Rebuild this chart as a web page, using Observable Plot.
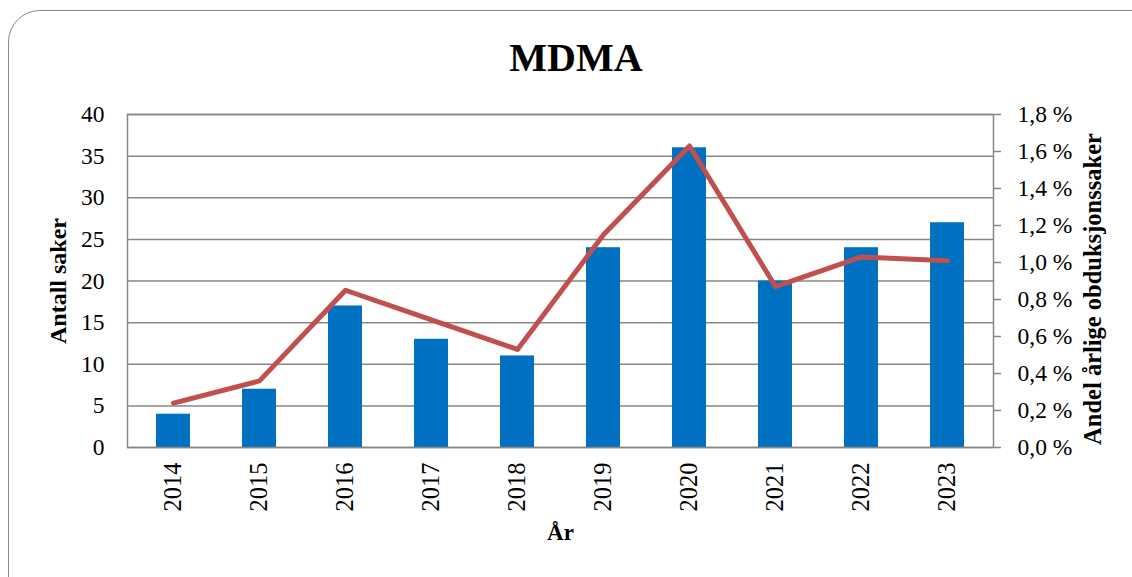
<!DOCTYPE html>
<html><head><meta charset="utf-8">
<script src="https://cdn.jsdelivr.net/npm/d3@7"></script>
<script src="https://cdn.jsdelivr.net/npm/@observablehq/plot@0.6"></script>
<style>
html,body{margin:0;padding:0;background:#fff;}
#wrap{position:relative;width:1132px;height:577px;overflow:hidden;background:#fff;}
#frame{position:absolute;left:8px;top:10px;width:1160px;height:600px;border:1.5px solid #8a8a8a;border-radius:32px;box-sizing:border-box;}
#chart{position:absolute;left:0;top:0;}
#title{position:absolute;left:0;width:1152px;top:38px;text-align:center;font:bold 40px/1 "Liberation Serif",serif;color:#000;}
</style></head><body>
<div id="wrap"><div id="frame"></div><div id="chart"></div><div id="title"></div></div>
<script>
const title = "MDMA";
const xLabel = "År";
const yLabel = "Antall saker";
const y2Label = "Andel årlige obduksjonssaker";
const years = ["2014","2015","2016","2017","2018","2019","2020","2021","2022","2023"];
const cases = [4,7,17,13,11,24,36,20,24,27];
const sharePct = [0.24,0.36,0.85,0.69,0.53,1.15,1.63,0.87,1.03,1.01];
const countTicks = [0,5,10,15,20,25,30,35,40];
const pctTicks = [0,0.2,0.4,0.6,0.8,1.0,1.2,1.4,1.6,1.8];

const k = 40 / 1.8;
const data = years.map((y, i) => ({year: y, cases: cases[i], share: sharePct[i] * k}));
const fmtPct = d => (d / k).toFixed(1).replace(".", ",") + " %";
const font = '"Liberation Serif", serif';

document.getElementById("title").textContent = title;

const chart = Plot.plot({
  width: 1132, height: 577,
  marginLeft: 127, marginRight: 139, marginTop: 114, marginBottom: 130,
  style: {fontFamily: font, fontSize: "22px", background: "transparent", color: "#000"},
  x: {type: "band", domain: years, paddingInner: 0.6, paddingOuter: 0.3, axis: null},
  y: {domain: [0, 40], axis: null, label: null},
  marks: [
    Plot.gridY(countTicks, {stroke: "#878787", strokeOpacity: 1, strokeWidth: 1.5}),
    Plot.barY(data, {x: "year", y: "cases", fill: "#0070C0"}),
    Plot.frame({stroke: "#878787", strokeWidth: 1.5}),
    Plot.lineY(data, {x: "year", y: "share", stroke: "#C0504D", strokeWidth: 5, strokeLinecap: "round", strokeLinejoin: "round"}),
    Plot.axisY({anchor: "left", ticks: countTicks, tickSize: 0, tickPadding: 23, fontSize: 23.5, label: null}),
    Plot.axisY({anchor: "right", ticks: pctTicks.map(p => p * k), tickFormat: fmtPct, tickSize: 7, tickPadding: 17, stroke: "#878787", strokeWidth: 1.5, fontSize: 23.5, label: null}),
    Plot.axisX({anchor: "bottom", tickRotate: -90, tickSize: 0, tickPadding: 15, fontSize: 24.5, label: null}),
    Plot.text([yLabel], {text: d => d, frameAnchor: "left", textAnchor: "middle", lineAnchor: "middle", rotate: -90, dx: -69, fontWeight: "bold", fontSize: 24}),
    Plot.text([y2Label], {text: d => d, frameAnchor: "right", textAnchor: "middle", lineAnchor: "middle", rotate: -90, dx: 100, dy: 8, fontWeight: "bold", fontSize: 24.5, letterSpacing: "0.4px"}),
    Plot.text([xLabel], {text: d => d, frameAnchor: "bottom", dy: 92, fontWeight: "bold", fontSize: 23})
  ]
});
document.getElementById("chart").appendChild(chart);
</script>
</body></html>
